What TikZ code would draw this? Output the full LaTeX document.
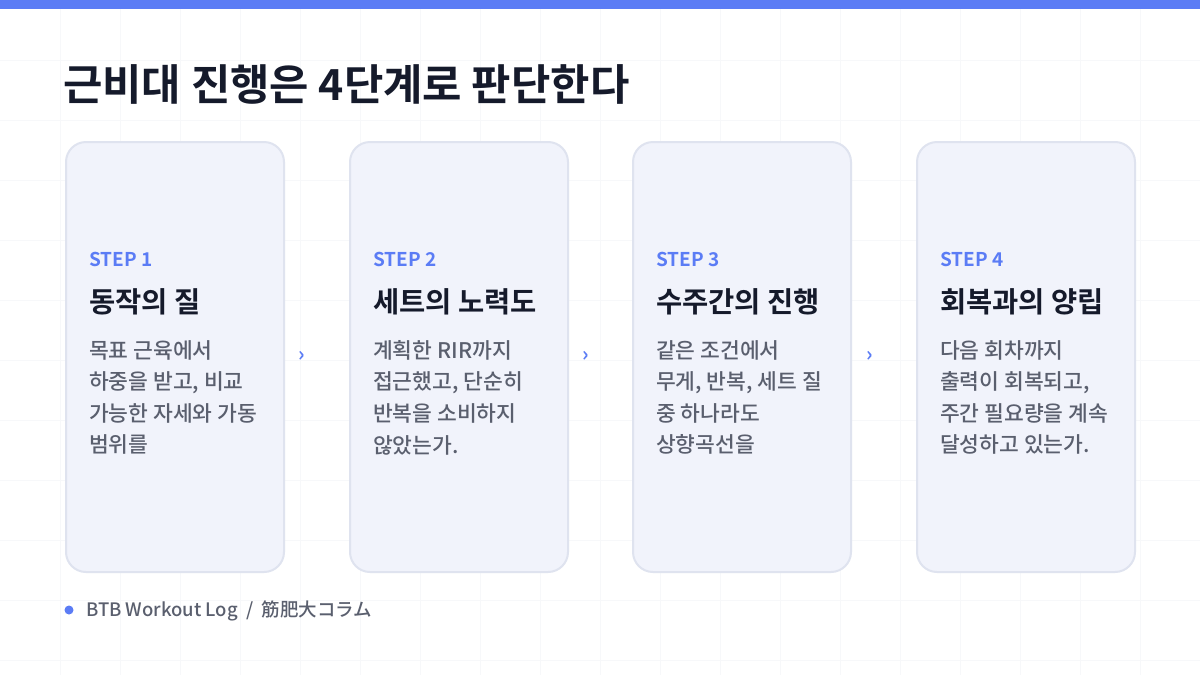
\documentclass[tikz,border=0pt]{standalone}
\usepackage{fontspec}
\setmainfont{Noto Sans CJK KR}
\newfontfamily\kb{Noto Sans CJK KR Bold}
\newfontfamily\km{Noto Sans CJK KR Medium}
\definecolor{accent}{HTML}{5B7CF5}
\definecolor{ink}{HTML}{151A2B}
\definecolor{body}{HTML}{5A5F6E}
\definecolor{cardfill}{HTML}{F1F3FB}
\definecolor{cardline}{HTML}{DFE3EF}
\definecolor{gridc}{HTML}{F7F8FA}
\begin{document}
\begin{tikzpicture}[x=1pt,y=-1pt,
  card/.style={draw=cardline,line width=2pt,fill=cardfill,rounded corners=20pt,minimum width=218pt,minimum height=430pt,anchor=north west,inner sep=0pt},
  steplbl/.style={anchor=base west,inner sep=0pt,text=accent,font=\kb\fontsize{19}{19}\selectfont},
  head/.style={anchor=base west,inner sep=0pt,text=ink,font=\kb\fontsize{28.5}{28.5}\selectfont},
  bodyt/.style={anchor=north west,inner sep=0pt,text=body,align=left,font=\km\fontsize{21.5}{31.6}\selectfont},
  chev/.style={text=accent,font=\kb\fontsize{20}{20}\selectfont,inner sep=0pt}]
\useasboundingbox (0,0) rectangle (1200,675);
\fill[white] (0,0) rectangle (1200,675);
\foreach \x in {60,120,...,1140} \draw[gridc,line width=0.8pt] (\x,9) -- (\x,675);
\foreach \y in {60,120,...,660} \draw[gridc,line width=0.8pt] (0,\y) -- (1200,\y);
\fill[accent] (0,0) rectangle (1200,9);
\node[anchor=base west,inner sep=0pt,text=ink,font=\kb\fontsize{42.8}{42.8}\selectfont] (title) at (63,100) {근비대 진행은 4단계로 판단한다};
\foreach \i/\x/\s/\h/\b in {
 1/65/STEP 1/동작의 질/{목표 근육에서\\하중을 받고, 비교\\가능한 자세와 가동\\범위를},
 2/349/STEP 2/세트의 노력도/{계획한 RIR까지\\접근했고, 단순히\\반복을 소비하지\\않았는가.},
 3/632/STEP 3/수주간의 진행/{같은 조건에서\\무게, 반복, 세트 질\\중 하나라도\\상향곡선을},
 4/916/STEP 4/회복과의 양립/{다음 회차까지\\출력이 회복되고,\\주간 필요량을 계속\\달성하고 있는가.}}{
  \node[card] (c\i) at (\x,141) {};
  \node[steplbl] (s\i) at (\x+24,266) {\s};
  \node[head] (h\i) at (\x+24,312) {\h};
  \node[bodyt] (b\i) at (\x+24,340) {\b};
}
\foreach \i/\x in {1/302,2/586,3/870}{
  \node[chev] (a\i) at (\x,356) {›};
}
\fill[accent] (69,610) circle (4.5pt);
\coordinate (dot) at (69,610);
\node[anchor=base west,inner sep=0pt,text=body,font=\km\fontsize{18.5}{18.5}\selectfont] (foot) at (86,616) {BTB Workout Log \ / \ 筋肥大コラム};
\end{tikzpicture}
\end{document}
